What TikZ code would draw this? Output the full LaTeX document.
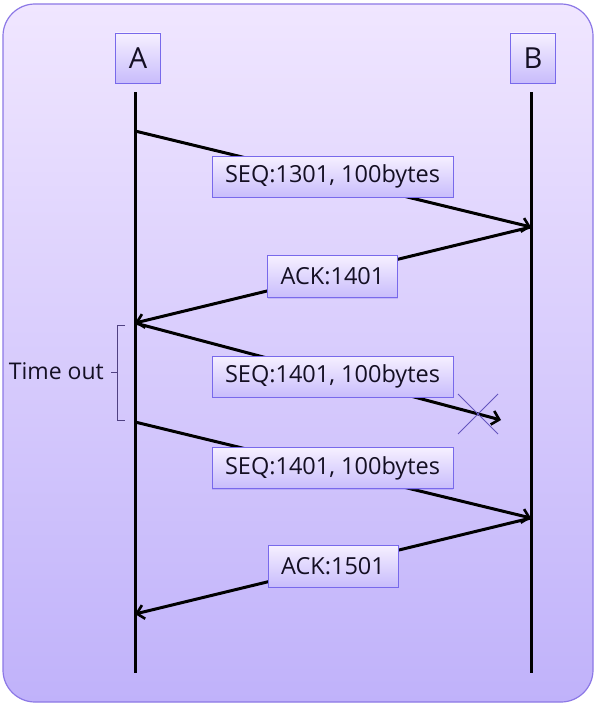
\documentclass[tikz,border=0pt]{standalone}
\usepackage{fontspec}
\setmainfont{Open Sans}
\usetikzlibrary{arrows.meta,shadows}
\definecolor{frametop}{RGB}{240,230,255}
\definecolor{framebot}{RGB}{192,178,250}
\definecolor{frameline}{RGB}{140,120,230}
\definecolor{boxtop}{RGB}{246,240,255}
\definecolor{boxbot}{RGB}{200,188,252}
\definecolor{boxline}{RGB}{120,105,235}
\definecolor{txt}{RGB}{20,15,35}
\definecolor{brace}{RGB}{80,65,130}
\definecolor{cross}{RGB}{100,85,190}
\begin{document}
\begin{tikzpicture}[x=1pt,y=-1pt,
  lbl/.style={draw=boxline, line width=0.8pt, top color=boxtop, bottom color=boxbot,
    text=txt, font=\fontsize{23.5}{25}\selectfont, inner sep=0pt,
    drop shadow={shadow xshift=0pt, shadow yshift=-1pt, opacity=0.25, fill=boxline}},
  party/.style={lbl, minimum width=45pt, minimum height=50pt, font=\fontsize{29}{30}\selectfont},
  msgbox/.style={lbl, minimum width=241pt, minimum height=41pt},
  ackbox/.style={lbl, minimum width=130pt, minimum height=42pt},
  life/.style={line width=3pt, black},
  msg/.style={line width=3pt, black, -{Straight Barb[length=7pt,width=14pt,line width=2.6pt]}}]
\useasboundingbox (0,0) rectangle (598,709);
\draw[draw=frameline, line width=1.2pt, top color=frametop, bottom color=framebot, rounded corners=32pt]
  (3,4) rectangle (593,702);

% lifelines
\coordinate (Atop) at (135,92);
\coordinate (Abot) at (135,673);
\coordinate (Btop) at (531,92);
\coordinate (Bbot) at (531,673);
\draw[life] (Atop) -- (Abot);
\draw[life] (Btop) -- (Bbot);

\node[party] (A) at (138,58) {A};
\node[party] (B) at (533,58) {B};

% event points
\coordinate (a1) at (135,131);
\coordinate (b1) at (531,227);
\coordinate (a2) at (135,323);
\coordinate (x1) at (501,420);
\coordinate (a3) at (135,422);
\coordinate (b2) at (531,518);
\coordinate (a4) at (135,614);

\draw[msg] (a1) -- (b1);
\draw[msg] (b1) -- (a2);
\draw[msg] (a2) -- (x1);
\draw[msg] (a3) -- (b2);
\draw[msg] (b2) -- (a4);

% lost packet cross
\coordinate (c1) at (458,394);
\coordinate (c2) at (498,434);
\coordinate (c3) at (498,394);
\coordinate (c4) at (458,434);
\draw[cross, line width=0.8pt] (c1) -- (c2);
\draw[cross, line width=0.8pt] (c3) -- (c4);

% labels
\node[msgbox] (m1) at (332.5,176.5) {SEQ:1301, 100bytes};
\node[ackbox] (k1) at (332.5,276.5) {ACK:1401};
\node[msgbox] (m2) at (332.5,376.5) {SEQ:1401, 100bytes};
\node[msgbox] (m3) at (332.5,468) {SEQ:1401, 100bytes};
\node[ackbox] (k2) at (333,566) {ACK:1501};

% time out brace
\coordinate (t1) at (125,325);
\coordinate (t2) at (117,325);
\coordinate (t3) at (117,420);
\coordinate (t4) at (125,420);
\coordinate (tm) at (117,372);
\coordinate (tl) at (111,372);
\draw[brace, line width=1pt] (t1) -- (t2) -- (t3) -- (t4);
\draw[brace, line width=1pt] (tm) -- (tl);
\node[text=txt, font=\fontsize{23}{25}\selectfont, anchor=east, inner sep=0pt] (to) at (104,371) {Time out};
\end{tikzpicture}
\end{document}
